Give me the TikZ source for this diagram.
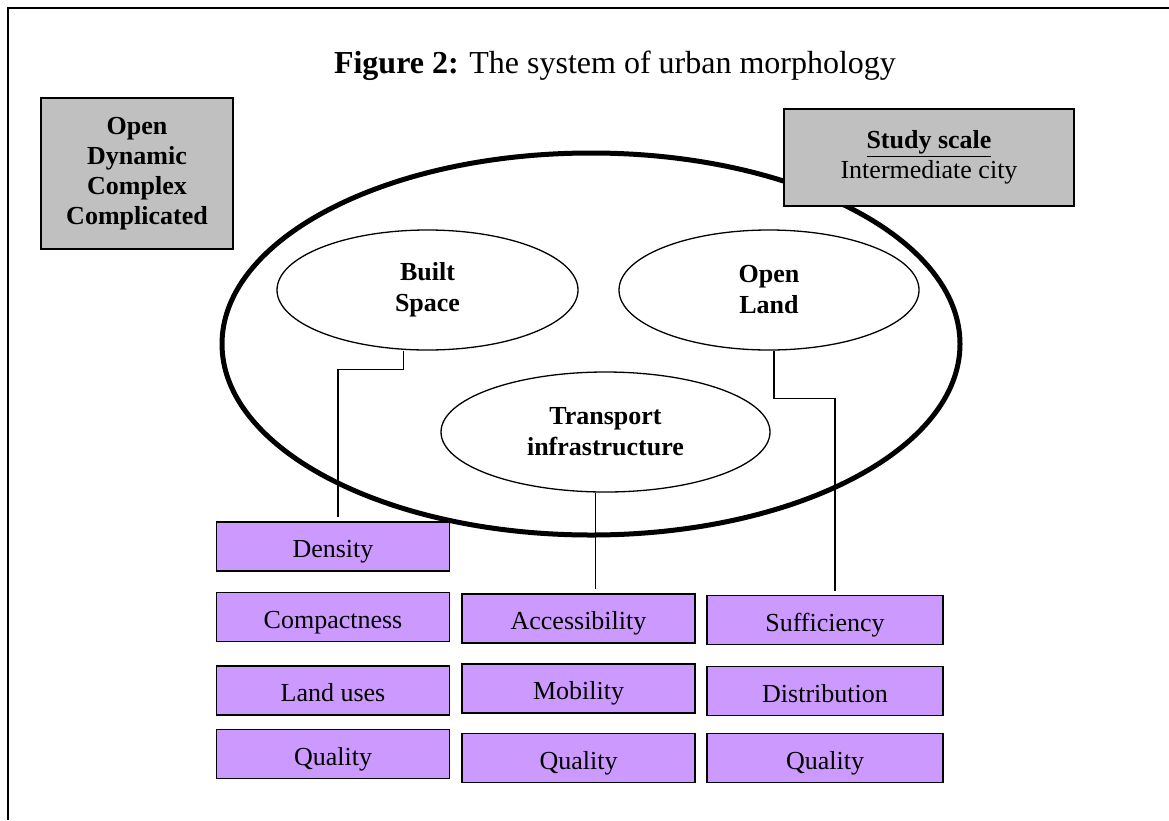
\documentclass[tikz,border=0pt]{standalone}
\usepackage{fontspec}
\setmainfont{Liberation Serif}
\usetikzlibrary{shapes.geometric}
\definecolor{lilac}{HTML}{CC99FF}
\definecolor{panelgrey}{HTML}{C0C0C0}

\begin{document}
\begin{tikzpicture}[x=1pt,y=-1pt,
    every node/.style={font=\fontsize{26}{30}\selectfont, inner sep=0pt},
    panel/.style={draw, fill=panelgrey, line width=1.6pt, align=center},
    ring/.style={draw, ellipse, line width=1.3pt, align=center, font=\fontsize{26}{31}\selectfont\bfseries},
    attr/.style={draw, fill=lilac, line width=1.6pt, minimum width=233pt, minimum height=49pt, text height=24pt, text depth=2pt},
    link/.style={line width=1.3pt, shorten >=4pt}]
      \useasboundingbox (0,0) rectangle (1169,820);
      \draw[line width=2pt] (1169,8) -- (8,8) -- (8,820); % frame
      \node[anchor=base, font=\fontsize{32}{38}\selectfont] (title) at (615,73) {\textbf{Figure 2:} The system of urban morphology};
      \node[panel, minimum width=192pt, minimum height=151pt, font=\fontsize{26}{30}\selectfont\bfseries] (traits) at (137,173.5) {Open\\Dynamic\\Complex\\Complicated};
      \node[draw, ellipse, line width=5pt, minimum width=738pt, minimum height=382pt] (city) at (591,344) {};
      \node[panel, minimum width=290pt, minimum height=97pt] (scale) at (929,157.5) {\textbf{\underline{Study scale}}\\Intermediate city};
      \node[ring, minimum width=301pt, minimum height=120pt] (built) at (427.5,290) {Built\\Space};
      \node[ring, minimum width=300pt, minimum height=120pt] (openland) at (769,290) {Open\\Land};
      \node[ring, minimum width=329pt, minimum height=120pt] (transport) at (605.5,432) {Transport\\infrastructure};
      \node[attr] (density) at (333,546.5) {Density};
      \node[attr] (compact) at (333,617) {Compactness};
      \node[attr] (landuse) at (333,690.5) {Land uses};
      \node[attr] (quality1) at (333,754) {Quality};
      \node[attr] (access) at (578.5,618.5) {Accessibility};
      \node[attr] (mobility) at (578.5,688.5) {Mobility};
      \node[attr] (quality2) at (578.5,758) {Quality};
      \node[attr, minimum width=236pt] (suff) at (825,620) {Sufficiency};
      \node[attr, minimum width=236pt] (distrib) at (825,691) {Distribution};
      \node[attr, minimum width=236pt] (quality3) at (825,758) {Quality};
      \coordinate (tdrop) at ([xshift=-10pt]transport.south);
      \coordinate (odrop) at ([xshift=5pt]openland.south);
      \draw[link] ([xshift=-24pt]built.south) -- ++(0,19) -| ([xshift=5pt]density.north); % built -> density
      \draw[link] (tdrop) -- (tdrop |- access.north); % transport -> accessibility
      \draw[link] (odrop) -- ++(0,48) -| ([xshift=10pt]suff.north); % open land -> sufficiency
    \end{tikzpicture}
\end{document}
